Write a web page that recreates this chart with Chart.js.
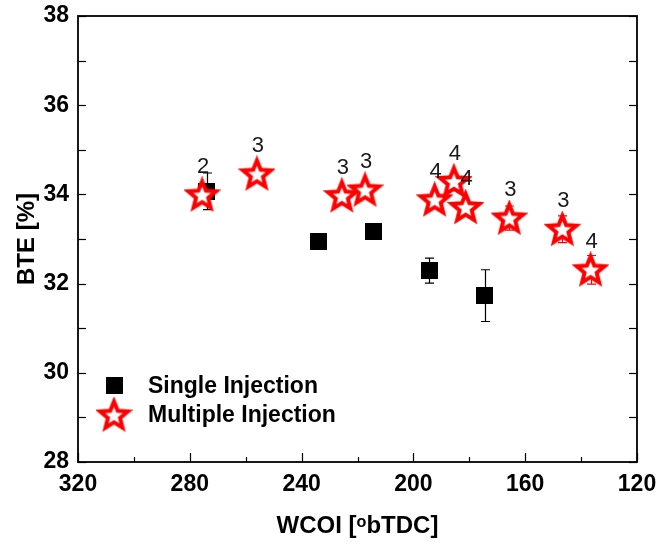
<!DOCTYPE html>
<html><head><meta charset="utf-8">
<script src="https://cdn.jsdelivr.net/npm/chart.js@4.4.0/dist/chart.umd.min.js"></script>
<style>html,body{margin:0;padding:0;background:#fff}#wrap{width:660px;height:548px;position:relative}</style>
</head><body><div id="wrap"><canvas id="c"></canvas></div>
<script>
// ---- data ----
const singleX = [274, 234, 214.2, 194.3, 174.4];
const singleY = [34.07, 32.95, 33.17, 32.29, 31.73];
const singleErr = [0.41, 0, 0, 0.28, 0.58];
const multiX = [275.6, 256, 225.6, 217.3, 192.4, 185.5, 181.3, 165.7, 146.7, 136.6];
const multiY = [33.99, 34.46, 33.97, 34.1, 33.88, 34.29, 33.71, 33.47, 33.22, 32.31];
const multiErr = [0.12, 0.12, 0.12, 0.12, 0.12, 0.15, 0.12, 0.27, 0.3, 0.32];
const multiLabels = ['2', '3', '3', '3', '4', '4', '4', '3', '3', '4'];
const xTicks = [320, 280, 240, 200, 160, 120];
const yTicks = [28, 30, 32, 34, 36, 38];
const seriesNames = ['Single Injection', 'Multiple Injection'];

// ---- marker images ----
function makeStar(R, r, lw) {
  const s = Math.ceil(2 * (R + lw));
  const c = document.createElement('canvas'); c.width = s; c.height = s;
  const g = c.getContext('2d');
  g.translate(s / 2, s / 2 + 1);
  g.beginPath();
  for (let i = 0; i < 10; i++) {
    const a = -Math.PI / 2 + i * Math.PI / 5;
    const rr = i % 2 === 0 ? R : r;
    const px = rr * Math.cos(a), py = rr * Math.sin(a);
    if (i === 0) g.moveTo(px, py); else g.lineTo(px, py);
  }
  g.closePath();
  g.fillStyle = '#fff'; g.fill();
  g.lineWidth = lw; g.strokeStyle = '#ff0000'; g.lineJoin = 'miter'; g.stroke();
  return c;
}
function makeSquare(side) {
  const c = document.createElement('canvas'); c.width = side; c.height = side;
  const g = c.getContext('2d'); g.fillStyle = '#000'; g.fillRect(0, 0, side, side);
  return c;
}
const starImg = makeStar(14.5, 6.4, 4);
const sqImg = makeSquare(17);

const FONT = '"Liberation Sans", Arial, Helvetica, sans-serif';

const errPlugin = {
  id: 'err',
  beforeDatasetsDraw(chart) {
    drawErr(chart, 0, singleErr, '#000');
    drawErr(chart, 1, multiErr, '#ff0000');
  },
  afterDatasetsDraw(chart) {
    const {ctx, scales: {x, y}} = chart;
    ctx.save();
    ctx.fillStyle = '#1a1a1a';
    ctx.font = '22px ' + FONT;
    ctx.textAlign = 'center'; ctx.textBaseline = 'middle';
    multiX.forEach((v, i) => {
      ctx.fillText(multiLabels[i], x.getPixelForValue(v) + 1, y.getPixelForValue(multiY[i]) - 28);
    });
    ctx.restore();
  },
  afterDraw(chart) {
    const {ctx, chartArea: {left, right, top, bottom}, scales: {x, y}} = chart;
    ctx.save();
    ctx.strokeStyle = '#000'; ctx.lineWidth = 1.8;
    ctx.strokeRect(left, top, right - left, bottom - top);
    ctx.lineWidth = 1.2;
    const xs = xTicks[0] - xTicks[1];
    for (let v = Math.min(...xTicks); v <= Math.max(...xTicks); v += xs / 2) {
      const px = Math.round(x.getPixelForValue(v)) + 0.5;
      const len = xTicks.includes(v) ? 9 : 5;
      ctx.beginPath(); ctx.moveTo(px, bottom); ctx.lineTo(px, bottom - len); ctx.stroke();
    }
    const ys = yTicks[1] - yTicks[0];
    for (let v = yTicks[0]; v <= yTicks[yTicks.length - 1]; v += ys / 2) {
      const py = Math.round(y.getPixelForValue(v)) + 0.5;
      const len = 8;
      ctx.beginPath(); ctx.moveTo(left, py); ctx.lineTo(left + len, py); ctx.stroke();
      ctx.beginPath(); ctx.moveTo(right, py); ctx.lineTo(right - len, py); ctx.stroke();
    }
    // legend
    const items = [[sqImg, 114.5, 385.5, seriesNames[0]], [starImg, 114, 415, seriesNames[1]]];
    ctx.font = 'bold 23px ' + FONT; ctx.fillStyle = '#000';
    ctx.textAlign = 'left'; ctx.textBaseline = 'middle';
    items.forEach(([img, cx, cy, t]) => {
      ctx.drawImage(img, cx - img.width / 2, cy - img.height / 2);
      ctx.fillText(t, 148, cy + 1);
    });
    ctx.restore();
  }
};
function drawErr(chart, di, errs, color) {
  const {ctx, scales: {x, y}} = chart;
  const xsArr = di === 0 ? singleX : multiX, ysArr = di === 0 ? singleY : multiY;
  ctx.save(); ctx.strokeStyle = color; ctx.lineWidth = 1.2;
  xsArr.forEach((v, i) => {
    if (!errs[i]) return;
    const px = Math.round(x.getPixelForValue(v)) + 0.5;
    const y1 = y.getPixelForValue(ysArr[i] + errs[i]);
    const y2 = y.getPixelForValue(ysArr[i] - errs[i]);
    ctx.beginPath();
    ctx.moveTo(px, y1); ctx.lineTo(px, y2);
    ctx.moveTo(px - 4.5, y1); ctx.lineTo(px + 4.5, y1);
    ctx.moveTo(px - 4.5, y2); ctx.lineTo(px + 4.5, y2);
    ctx.stroke();
  });
  ctx.restore();
}

new Chart(document.getElementById('c'), {
  type: 'scatter',
  data: {
    datasets: [
      { label: seriesNames[0], data: singleX.map((v, i) => ({x: v, y: singleY[i]})), pointStyle: sqImg, order: 1 },
      { label: seriesNames[1], data: multiX.map((v, i) => ({x: v, y: multiY[i]})), pointStyle: starImg, order: 0 }
    ]
  },
  options: {
    responsive: true, maintainAspectRatio: false, animation: false,
    layout: { padding: { left: 0, right: 23, top: 16, bottom: 0 } },
    plugins: { legend: { display: false }, tooltip: { enabled: false } },
    scales: {
      x: {
        type: 'linear', reverse: true, min: 120, max: 320,
        afterBuildTicks: s => { s.ticks = xTicks.map(v => ({value: v})); },
        afterFit: s => { s.height = 86; s.paddingLeft = 0; s.paddingRight = 0; },
        ticks: { font: { family: FONT, size: 23, weight: 'bold' }, color: '#000', padding: 9, maxRotation: 0, autoSkip: false },
        grid: { display: false, drawTicks: false }, border: { display: false },
        title: { display: true, text: 'WCOI [ᵒbTDC]', color: '#000', font: { family: FONT, size: 24, weight: 'bold' }, padding: { top: 0, bottom: 7 } }
      },
      y: {
        type: 'linear', min: 28, max: 38,
        afterBuildTicks: s => { s.ticks = yTicks.map(v => ({value: v})); },
        afterFit: s => { s.width = 78; s.paddingTop = 0; s.paddingBottom = 0; },
        ticks: { font: { family: FONT, size: 23, weight: 'bold' }, color: '#000', padding: 9 },
        grid: { display: false, drawTicks: false }, border: { display: false },
        title: { display: true, text: 'BTE [%]', color: '#000', font: { family: FONT, size: 24, weight: 'bold' }, padding: { top: 13, bottom: 0 } }
      }
    }
  },
  plugins: [errPlugin]
});
</script>
</body></html>
